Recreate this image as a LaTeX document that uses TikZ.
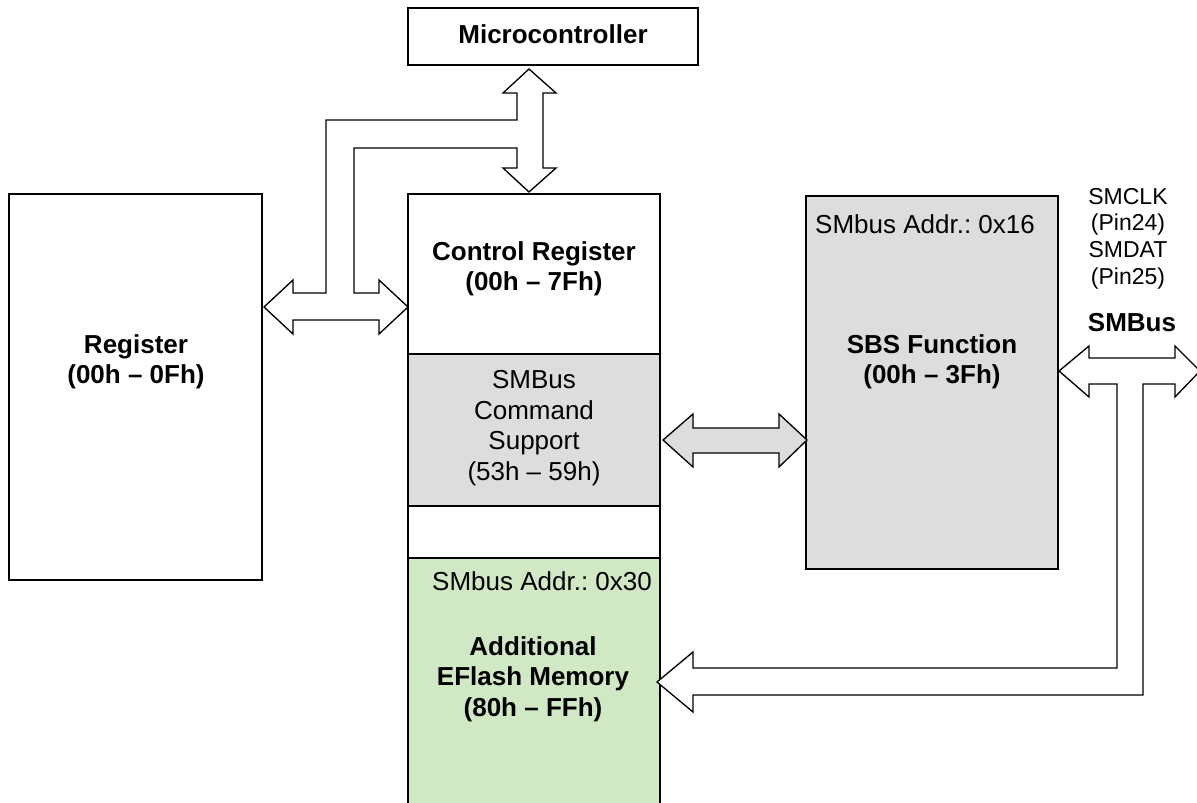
\documentclass[tikz,border=0pt]{standalone}
\usepackage{fontspec}
\setmainfont{Liberation Sans}
\frenchspacing
\usetikzlibrary{fit}
\definecolor{boxgray}{RGB}{221,221,221}
\definecolor{flashgreen}{RGB}{208,232,196}
\begin{document}
\begin{tikzpicture}[x=0.75pt,y=-0.75pt,
  box/.style={draw=black,line width=1pt,inner sep=0pt,rectangle},
  blockarrow/.style={draw=black,line width=1pt,line join=miter},
  txtbold/.style={font=\fontsize{19.5}{23}\selectfont\bfseries,align=center,anchor=north,inner sep=0pt},
  txtreg/.style={font=\fontsize{19.5}{23}\selectfont,align=center,anchor=north,inner sep=0pt},
  txtsmall/.style={font=\fontsize{17.25}{20}\selectfont,align=center,anchor=north,inner sep=0pt}]
\useasboundingbox (0,0) rectangle (1197,803);

% boxes
\node[box,fill=white,fit={(408,8) (698,65)}] (micro) {};
\node[box,fill=white,fit={(9,194) (262,580)}] (regbox) {};
\node[box,fill=white,fit={(408,194) (660,354)}] (ctrl) {};
\node[box,fill=boxgray,fit={(408,354) (660,506)}] (cmd) {};
\node[box,fill=white,fit={(408,506) (660,558)}] (gap) {};
\node[box,fill=flashgreen,fit={(408,558) (660,820)}] (flash) {};
\node[box,fill=boxgray,fit={(806,196) (1058,569)}] (sbs) {};

% texts
\node[txtbold] (microtxt) at (553,24) {Microcontroller};
\node[txtbold] (regtxt) at (136,334) {Register\\(00h – 0Fh)};
\node[txtbold] (ctrltxt) at (534,241) {Control Register\\(00h – 7Fh)};
\node[txtreg] (cmdtxt) at (534,370) {SMBus\\Command\\Support\\(53h – 59h)};
\node[txtreg] (addr30) at (542,571) {SMbus Addr.: 0x30};
\node[txtbold] (flashtxt) at (533,636) {Additional\\EFlash Memory\\(80h – FFh)};
\node[txtreg] (addr16) at (925,214) {SMbus Addr.: 0x16};
\node[txtbold] (sbstxt) at (932,334) {SBS Function\\(00h – 3Fh)};
\node[txtsmall] (pins) at (1128,188) {SMCLK\\(Pin24)\\SMDAT\\(Pin25)};
\node[txtbold] (smbustxt) at (1132,313) {SMBus};

% block arrows
\draw[blockarrow,fill=white] (529,69) -- (556,93) -- (543,93) -- (543,168) -- (556,168) -- (529,192)
  -- (503,168) -- (517,168) -- (517,148) -- (354,148) -- (354,293) -- (379,293) -- (379,280)
  -- (408,307) -- (379,334) -- (379,320) -- (293,320) -- (293,334) -- (264,307) -- (293,280)
  -- (293,293) -- (326,293) -- (326,120) -- (517,120) -- (517,93) -- (503,93) -- cycle;

\draw[blockarrow,fill=boxgray] (663,440) -- (693,414) -- (693,428) -- (779,428) -- (779,414)
  -- (807,440) -- (779,467) -- (779,453) -- (693,453) -- (693,467) -- cycle;

\draw[blockarrow,fill=white] (1059,371) -- (1089,346) -- (1089,358) -- (1175,358) -- (1175,346)
  -- (1200,371) -- (1175,397) -- (1175,384) -- (1143,384) -- (1143,695) -- (693,695) -- (693,712)
  -- (657,682) -- (693,652) -- (693,668) -- (1117,668) -- (1117,384) -- (1089,384) -- (1089,397) -- cycle;
\end{tikzpicture}
\end{document}
